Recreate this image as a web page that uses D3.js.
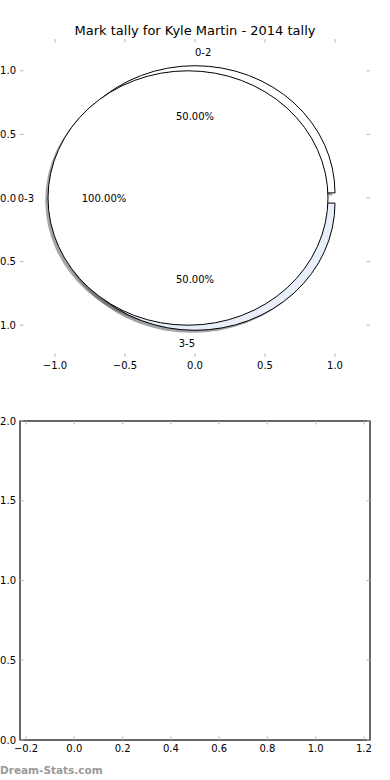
<html>
<head>
  <meta charset="utf-8">
  <script src="https://d3js.org/d3.v7.min.js"></script>
  <style>
  body { margin: 0; background: #fff; }
  text { font-family: "DejaVu Sans", sans-serif; fill: #000; }
  .tick { stroke: #b5b5b5; stroke-width: 1; }
  .spine { stroke: #000; stroke-width: 1.2; fill: none; }
  </style>
</head>
<body>
<svg id="chart" width="390" height="780"></svg>
<script>

// data
const title = "Mark tally for Kyle Martin - 2014 tally";
const outerLabels = ["0-2", "3-5"];
const outerValues = [1, 1];
const innerLabels = ["0-3"];
const innerValues = [1];
const pieTicks = [-1.0, -0.5, 0.0, 0.5, 1.0];
const lowerXTicks = [-0.2, 0.0, 0.2, 0.4, 0.6, 0.8, 1.0, 1.2];
const lowerYTicks = [0.0, 0.5, 1.0, 1.5, 2.0];

const outerColors = ["#ffffff", "#e8eefa"];
const innerColors = ["#ffffff"];

const svg = d3.select("#chart");
const fmt = d3.format(".1f");
const pctFmt = v => d3.format(".2f")(v) + "%";

// ---------- upper axes (pie) ----------
const box = { left: 20, right: 370, top: 39, bottom: 357 };
const x = d3.scaleLinear().domain([-1.25, 1.25]).range([box.left, box.right]);
const y = d3.scaleLinear().domain([-1.25, 1.25]).range([box.bottom, box.top]);
const sx = x(1) - x(0), sy = y(0) - y(1);

svg.append("text")
  .attr("x", (box.left + box.right) / 2)
  .attr("y", 30)
  .attr("text-anchor", "middle")
  .attr("dominant-baseline", "central")
  .style("font-size", "13px")
  .text(title);

function layout(values, explode) {
  const total = d3.sum(values);
  const arcs = d3.pie().sort(null)
    .startAngle(Math.PI / 2)
    .endAngle(Math.PI / 2 - 2 * Math.PI)(values);
  arcs.forEach(a => {
    const am = (a.startAngle + a.endAngle) / 2;
    a.theta = Math.PI / 2 - am;
    a.cx = explode * Math.cos(a.theta);
    a.cy = explode * Math.sin(a.theta);
    a.pct = a.value / total * 100;
  });
  return arcs;
}

const outer = layout(outerValues, 0.04);
const inner = layout(innerValues, 0.05);
const arc = d3.arc().innerRadius(0).outerRadius(1);

const pie = svg.append("g");

// shadows go under every wedge
[[outer, outerColors], [inner, innerColors]].forEach(([arcs, cols]) => {
  pie.selectAll(null).data(arcs).join("path")
    .attr("d", arc)
    .attr("transform", d => `translate(${x(d.cx - 0.02)},${y(d.cy - 0.02)}) scale(${sx},${sy})`)
    .attr("fill", (d, i) => { const c = d3.rgb(cols[i]); return d3.rgb(c.r * 0.3, c.g * 0.3, c.b * 0.3); })
    .attr("opacity", 0.5);
});

[[outer, outerColors], [inner, innerColors]].forEach(([arcs, cols]) => {
  pie.selectAll(null).data(arcs).join("path")
    .attr("d", arc)
    .attr("transform", d => `translate(${x(d.cx)},${y(d.cy)}) scale(${sx},${sy})`)
    .attr("fill", (d, i) => cols[i])
    .attr("stroke", "#000")
    .attr("stroke-width", 1)
    .attr("vector-effect", "non-scaling-stroke");
});

[[outer, outerLabels], [inner, innerLabels]].forEach(([arcs, labs]) => {
  arcs.forEach((d, i) => {
    const lx = d.cx + 1.1 * Math.cos(d.theta);
    const ly = d.cy + 1.1 * Math.sin(d.theta);
    svg.append("text")
      .attr("x", x(lx)).attr("y", y(ly))
      .attr("text-anchor", lx > 0 ? "start" : "end")
      .attr("dominant-baseline", "central")
      .style("font-size", "10px")
      .text(labs[i]);
    svg.append("text")
      .attr("x", x(d.cx + 0.6 * Math.cos(d.theta)))
      .attr("y", y(d.cy + 0.6 * Math.sin(d.theta)))
      .attr("text-anchor", "middle")
      .attr("dominant-baseline", "central")
      .style("font-size", "10px")
      .text(pctFmt(d.pct));
  });
});

function drawTicks(b, xs, ys, xt, yt) {
  const g = svg.append("g");
  const L = 3.5;
  xt.forEach(t => {
    g.append("line").attr("class", "tick").attr("x1", xs(t)).attr("x2", xs(t)).attr("y1", b.bottom).attr("y2", b.bottom - L);
    g.append("line").attr("class", "tick").attr("x1", xs(t)).attr("x2", xs(t)).attr("y1", b.top).attr("y2", b.top + L);
    g.append("text").attr("x", xs(t)).attr("y", b.bottom + 8)
      .attr("text-anchor", "middle").attr("dominant-baseline", "central")
      .style("font-size", "10px").text(fmt(t));
  });
  yt.forEach(t => {
    g.append("line").attr("class", "tick").attr("y1", ys(t)).attr("y2", ys(t)).attr("x1", b.left).attr("x2", b.left + L);
    g.append("line").attr("class", "tick").attr("y1", ys(t)).attr("y2", ys(t)).attr("x1", b.right).attr("x2", b.right - L);
    g.append("text").attr("x", b.left - 4).attr("y", ys(t))
      .attr("text-anchor", "end").attr("dominant-baseline", "central")
      .style("font-size", "10px").text(fmt(t));
  });
}

drawTicks(box, x, y, pieTicks, pieTicks);

// ---------- lower axes (empty) ----------
const box2 = { left: 20, right: 370, top: 421, bottom: 740 };
const x2 = d3.scaleLinear().domain([-0.225, 1.225]).range([box2.left, box2.right]);
const y2 = d3.scaleLinear().domain([0, 2]).range([box2.bottom, box2.top]);

svg.append("rect").attr("class", "spine")
  .attr("x", box2.left).attr("y", box2.top)
  .attr("width", box2.right - box2.left).attr("height", box2.bottom - box2.top);

drawTicks(box2, x2, y2, lowerXTicks, lowerYTicks);

svg.append("text")
  .attr("x", 0).attr("y", 770)
  .attr("dominant-baseline", "central")
  .style("font-size", "10.5px")
  .style("font-weight", "bold")
  .style("fill", "#999")
  .text("Dream-Stats.com");

</script>
</body>
</html>
